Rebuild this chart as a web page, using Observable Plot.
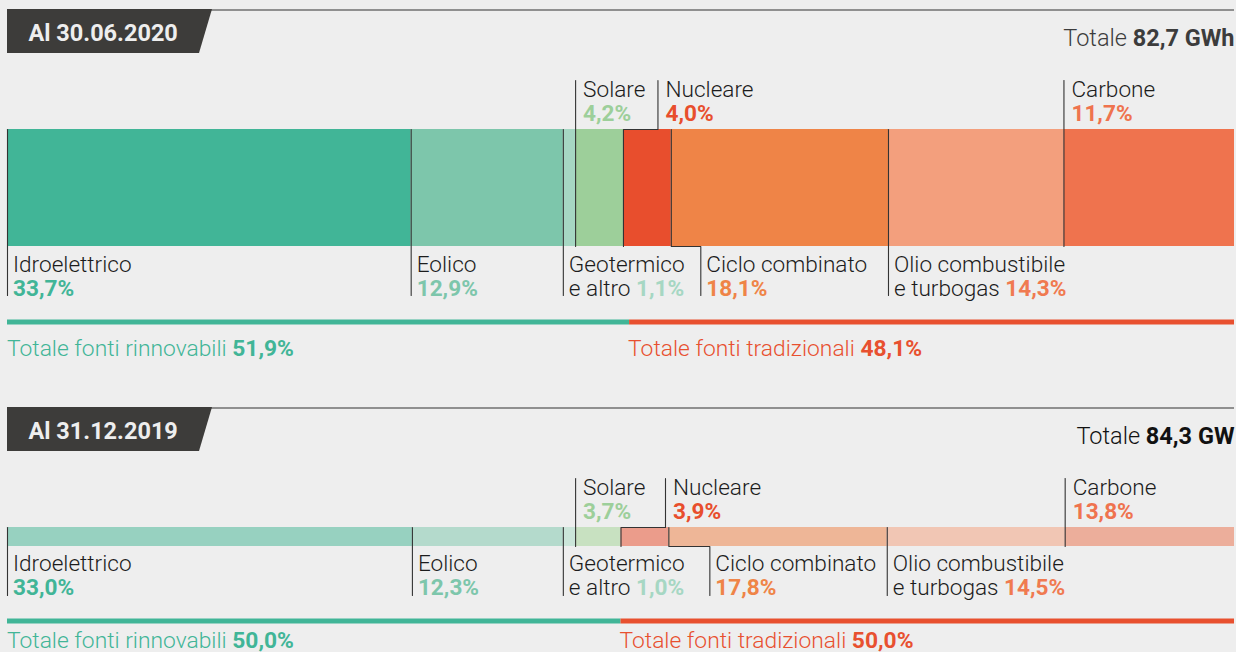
<!DOCTYPE html>
<html><head><meta charset="utf-8">
<script src="https://cdn.jsdelivr.net/npm/d3@7"></script>
<script src="https://cdn.jsdelivr.net/npm/@observablehq/plot@0.6"></script>
<style>
body{margin:0;background:#eeeeee;}
#chart{position:relative;width:1236px;height:652px;overflow:hidden;}
</style></head><body><div id="chart"></div>
<script>
// ---------------- data ----------------
const sources = ["Idroelettrico","Eolico","Geotermico e altro","Solare","Nucleare","Ciclo combinato","Olio combustibile e turbogas","Carbone"];
const nameLines = [["Idroelettrico"],["Eolico"],["Geotermico","e altro"],["Solare"],["Nucleare"],["Ciclo combinato"],["Olio combustibile","e turbogas"],["Carbone"]];
const labelSide = ["below","below","below","above","above","below","below","above"];
const dates = ["Al 30.06.2020","Al 31.12.2019"];
const totalLabels = ["82,7 GWh","84,3 GW"];
const share2020 = [33.7,12.9,1.1,4.2,4.0,18.1,14.3,11.7];
const share2019 = [33.0,12.3,1.0,3.7,3.9,17.8,14.5,13.8];
// segment widths of the 2020 bar as actually drawn in the reference picture
const drawn2020 = [32.9,12.4,1.0,3.9,3.9,17.7,14.3,13.9];
const renewableShare = [51.9,50.0];
const traditionalShare = [48.1,50.0];
// renewable/traditional split of the totals line as drawn in the reference
const drawnRenewable = [50.7,50.0];

// ---------------- styles ----------------
const fills2020 = ["#41b597","#7dc6ab","#a6d7c3","#9dcf9a","#e84e2d","#ef8447","#f39f7d","#ef734e"];
const fills2019 = ["#97d1c0","#b4dacc","#cbe5d9","#c8e1c1","#eb9c8b","#eeb697","#f1c6b4","#ecae9b"];
const pctColors = ["#41b597","#7dc6ab","#a6d7c3","#9dcf9a","#e84e2d","#ef8447","#f07a50","#ef734e"];
const GREEN = "#41b597", RED = "#e8502f", INK = "#1c1c1c";
const FONT = "Roboto, 'Liberation Sans', sans-serif";
const FS = 22.6;      // segment labels
const FST = 22.8;     // totals line labels
const FSH = 23.5;     // header labels

const layout = [
  {top:0, barTop:129, barBottom:246, upName:96, upPct:120, upLineTop:80, lowName:271.5, lowPct:295.5, lowLineBottom:295, totY:322, totText:355, jog:{4:34.5,5:29.5}, totalColor:"#3c3c3c"},
  {top:398, barTop:527, barBottom:546, upName:494, upPct:518, upLineTop:478, lowName:570.5, lowPct:594.5, lowLineBottom:595, totY:621, totText:647.5, jog:{4:44.5,5:41}, totalColor:"#111111"}
];

const years = [
  {drawn: drawn2020, shares: share2020, fills: fills2020},
  {drawn: share2019, shares: share2019, fills: fills2019}
];

const W = 1236, X0 = 7, X1 = 1234;
const pxToX = px => px * 100 / (X1 - X0);
const fmt = v => v.toFixed(1).replace(".", ",") + "%";

const ctx = document.createElement("canvas").getContext("2d");
const measure = (t, weight, size) => { ctx.font = `${weight} ${size}px ${FONT}`; return ctx.measureText(t).width; };

// build tables
const segs = [], lines = [], light = [], bold = [], totalsBars = [];
years.forEach((yr, p) => {
  const L = layout[p];
  let acc = 0;
  yr.drawn.forEach((d, i) => {
    const start = acc, end = acc + d; acc = end;
    segs.push({x1:start, x2:end, y1:L.barTop, y2:L.barBottom, fill: yr.fills[i]});
    const jog = L.jog[i] ? pxToX(L.jog[i]) : 0;
    const lx = start + jog;
    let pts;
    if (labelSide[i] === "below") {
      pts = jog ? [[start,L.barTop],[start,L.barBottom],[lx,L.barBottom],[lx,L.lowLineBottom]]
                : [[start,L.barTop],[start,L.lowLineBottom]];
    } else {
      pts = jog ? [[lx,L.upLineTop],[lx,L.barTop],[start,L.barTop],[start,L.barBottom]]
                : [[start,L.upLineTop],[start,L.barBottom]];
    }
    pts.forEach(([x,y]) => lines.push({id:`${p}-${i}`, x, y}));
    const tx = lx + pxToX(labelSide[i] === "below" ? 5.5 : 7.5);
    const nl = nameLines[i];
    const yName = labelSide[i] === "below" ? L.lowName : L.upName;
    const yPct = labelSide[i] === "below" ? L.lowPct : L.upPct;
    light.push({x:tx, y:yName, text:nl[0], fill:INK, size:FS});
    if (nl.length > 1) {
      light.push({x:tx, y:yPct, text:nl[1], fill:INK, size:FS});
      bold.push({x:tx + pxToX(measure(nl[1] + " ", 300, FS)), y:yPct, text: fmt(yr.shares[i]), fill: pctColors[i], size:FS});
    } else {
      bold.push({x:tx, y:yPct, text: fmt(yr.shares[i]), fill: pctColors[i], size:FS});
    }
  });
  totalsBars.push({x1:0, x2:drawnRenewable[p], y1:L.totY-2.5, y2:L.totY+2.5, fill:GREEN});
  totalsBars.push({x1:drawnRenewable[p], x2:100, y1:L.totY-2.5, y2:L.totY+2.5, fill:RED});
  const t1 = "Totale fonti rinnovabili ", t2 = "Totale fonti tradizionali ";
  const a = pxToX(-0.5);
  light.push({x:a, y:L.totText, text:t1, fill:GREEN, size:FST});
  bold.push({x:a + pxToX(measure(t1, 300, FST)), y:L.totText, text:fmt(renewableShare[p]), fill:GREEN, size:FST});
  light.push({x:drawnRenewable[p] - pxToX(1.5), y:L.totText, text:t2, fill:RED, size:FST});
  bold.push({x:drawnRenewable[p] - pxToX(1.5) + pxToX(measure(t2, 300, FST)), y:L.totText, text:fmt(traditionalShare[p]), fill:RED, size:FST});
});

const headLight = [], headBold = [];
layout.forEach((L, p) => {
  const bw = measure(totalLabels[p], 700, FSH);
  headBold.push({x:100, y:L.top+45, text:totalLabels[p], fill:L.totalColor});
  headLight.push({x:100 - pxToX(bw), y:L.top+45, text:"Totale ", fill:L.totalColor});
});
const dateTexts = dates.map((d, p) => ({x:pxToX(21), y:layout[p].top+40, text:d}));

const txt = (data, weight, extra={}) => Plot.text(data, {x:"x", y:"y", text:"text", fill:"fill", textAnchor:"start", lineAnchor:"bottom", fontWeight:weight, ...extra});

const chart = Plot.plot({
  width: W, height: 652, margin: 0,
  x: {domain:[0,100], range:[X0, X1], axis:null},
  y: {type:"identity", axis:null},
  style: {background:"transparent", fontFamily: FONT},
  marks: [
    Plot.rect(segs, {x1:"x1", x2:"x2", y1:"y1", y2:"y2", fill:"fill"}),
    Plot.line(lines, {x:"x", y:"y", z:"id", stroke:"#333333", strokeWidth:1.1}),
    Plot.rect(totalsBars, {x1:"x1", x2:"x2", y1:"y1", y2:"y2", fill:"fill"}),
    txt(light.filter(d => d.size === FS), 300, {fontSize:FS}),
    txt(bold.filter(d => d.size === FS), 700, {fontSize:FS}),
    txt(light.filter(d => d.size === FST), 300, {fontSize:FST}),
    txt(bold.filter(d => d.size === FST), 700, {fontSize:FST}),
    txt(headLight, 300, {fontSize:FSH, textAnchor:"end"}),
    txt(headBold, 700, {fontSize:FSH, textAnchor:"end"}),
    Plot.text(dateTexts, {x:"x", y:"y", text:"text", fill:"#eeeeee", textAnchor:"start", lineAnchor:"bottom", fontWeight:700, fontSize:FSH})
  ]
});

// header chrome: dark slanted tab and the thin rule to its right
const svg = d3.select(chart);
const deco = svg.insert("g", ":first-child");
layout.forEach(L => {
  const t = L.top;
  deco.append("line").attr("x1", 205).attr("x2", X1).attr("y1", t+10).attr("y2", t+10)
      .attr("stroke", "#6f6f6f").attr("stroke-width", 1.6);
  deco.append("polygon").attr("points", `${X0},${t+9} 212,${t+9} 199,${t+53} ${X0},${t+53}`)
      .attr("fill", "#3d3c3a");
});
document.getElementById("chart").appendChild(chart);
</script></body></html>
